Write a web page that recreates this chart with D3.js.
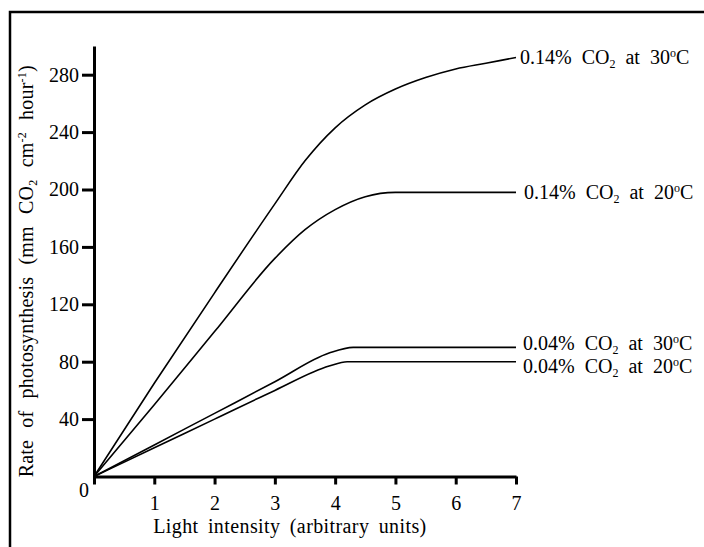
<!DOCTYPE html>
<html>
<head>
<meta charset="utf-8">
<script src="https://cdn.jsdelivr.net/npm/d3@7"></script>
<style>
  html, body { margin: 0; background: #fff; overflow: hidden; }
  svg { display: block; }
</style>
</head>
<body>
<svg id="chart"></svg>
<script>
// light intensity values (arbitrary units)
const xTicks = [1, 2, 3, 4, 5, 6, 7]
const yTicks = [40, 80, 120, 160, 200, 240, 280]

// rate of photosynthesis
const co2_014_30 = [[0, 0], [1, 65], [2, 128], [3, 190], [3.5, 220], [4, 243], [4.5, 259], [5, 270], [5.5, 278], [6, 284], [6.5, 288], [7, 292]]
const co2_014_20 = [[0, 0], [1, 50], [2, 101], [3, 152], [3.5, 172], [4, 186], [4.5, 195], [5, 198], [6, 198], [7, 198]]
const co2_004_30 = [[0, 0], [1, 22], [2, 44], [3, 66], [3.9, 86], [4.3, 90], [7, 90]]
const co2_004_20 = [[0, 0], [1, 20], [2, 40], [3, 60], [3.9, 77], [4.2, 80], [7, 80]]

const series = [
  { pct: '0.14%', temp: '30', values: co2_014_30, dx: 4, dy: 0 },
  { pct: '0.14%', temp: '20', values: co2_014_20, dx: 8, dy: 0 },
  { pct: '0.04%', temp: '30', values: co2_004_30, dx: 7, dy: -4 },
  { pct: '0.04%', temp: '20', values: co2_004_20, dx: 7, dy: 4 },
]

const width = 704
const height = 547
const marginLeft = 94
const marginRight = 188
const marginTop = 46
const marginBottom = 70
const fontSize = 20

const svg = d3.select('#chart')
  .attr('width', width)
  .attr('height', height)
  .attr('font-family', '"Liberation Serif", "DejaVu Serif", serif')
  .attr('font-size', fontSize)

// outer frame, only left and top edges are visible
svg.append('path')
  .attr('d', `M10,${height}V12H${width}`)
  .attr('fill', 'none')
  .attr('stroke', '#000')
  .attr('stroke-width', 2.5)

// scales
const x = d3.scaleLinear()
  .domain([0, 7])
  .range([marginLeft, width - marginRight])

const y = d3.scaleLinear()
  .domain([0, 300])
  .range([height - marginBottom - 0.5, marginTop])

// x axis
svg.append('g')
  .attr('transform', `translate(0,${y(0)})`)
  .call(d3.axisBottom(x).tickValues([0, ...xTicks]).tickSize(8).tickSizeOuter(0).tickFormat(d => d === 0 ? '' : d))
  .attr('font-family', null)
  .attr('font-size', null)
  .call(g => g.selectAll('path, line').attr('stroke-width', 3))
  .call(g => g.selectAll('text').attr('dy', '1.1em'))

// y axis
svg.append('g')
  .attr('transform', `translate(${x(0)},0)`)
  .call(d3.axisLeft(y).tickValues(yTicks).tickSize(12).tickSizeOuter(0))
  .attr('font-family', null)
  .attr('font-size', null)
  .call(g => g.selectAll('path, line').attr('stroke-width', 3))
  .call(g => g.selectAll('text').attr('x', -15))

// zero label at origin
svg.append('text')
  .attr('x', x(0) - 10)
  .attr('y', y(0) + 20)
  .attr('text-anchor', 'middle')
  .text('0')

// axis titles
svg.append('text')
  .attr('x', x(3.25))
  .attr('y', y(0) + 56)
  .attr('text-anchor', 'middle')
  .attr('letter-spacing', 0.4)
  .attr('word-spacing', 4)
  .text('Light intensity (arbitrary units)')

const yTitle = svg.append('text')
  .attr('transform', `translate(33,${(y(0) + y(300)) / 2 + 10}) rotate(-90)`)
  .attr('text-anchor', 'middle')
  .attr('letter-spacing', 0.2)
  .attr('word-spacing', 7)
yTitle.append('tspan').text('Rate of photosynthesis (mm CO')
yTitle.append('tspan').attr('font-size', 12).attr('baseline-shift', '-30%').text('2')
yTitle.append('tspan').text(' cm')
yTitle.append('tspan').attr('font-size', 12).attr('baseline-shift', '55%').text('-2')
yTitle.append('tspan').text(' hour')
yTitle.append('tspan').attr('font-size', 12).attr('baseline-shift', '55%').text('-1')
yTitle.append('tspan').text(')')

// curves
const line = d3.line()
  .x(d => x(d[0]))
  .y(d => y(d[1]))
  .curve(d3.curveMonotoneX)

svg.append('g')
    .attr('fill', 'none')
    .attr('stroke', '#000')
    .attr('stroke-width', 1.6)
  .selectAll('path')
  .data(series)
  .join('path')
    .attr('d', d => line(d.values))

// labels at the right end of each curve
const labels = svg.append('g')
    .attr('word-spacing', 5)
  .selectAll('text')
  .data(series)
  .join('text')
    .attr('x', d => x(7) + d.dx)
    .attr('y', d => y(d.values[d.values.length - 1][1]) + d.dy)
    .attr('dy', '0.35em')

labels.append('tspan').text(d => d.pct + ' CO')
labels.append('tspan').attr('font-size', 12).attr('baseline-shift', '-30%').text('2')
labels.append('tspan').text(d => ' at ' + d.temp)
labels.append('tspan').attr('font-size', 12).attr('baseline-shift', '55%').text('o')
labels.append('tspan').text('C')
</script>
</body>
</html>
